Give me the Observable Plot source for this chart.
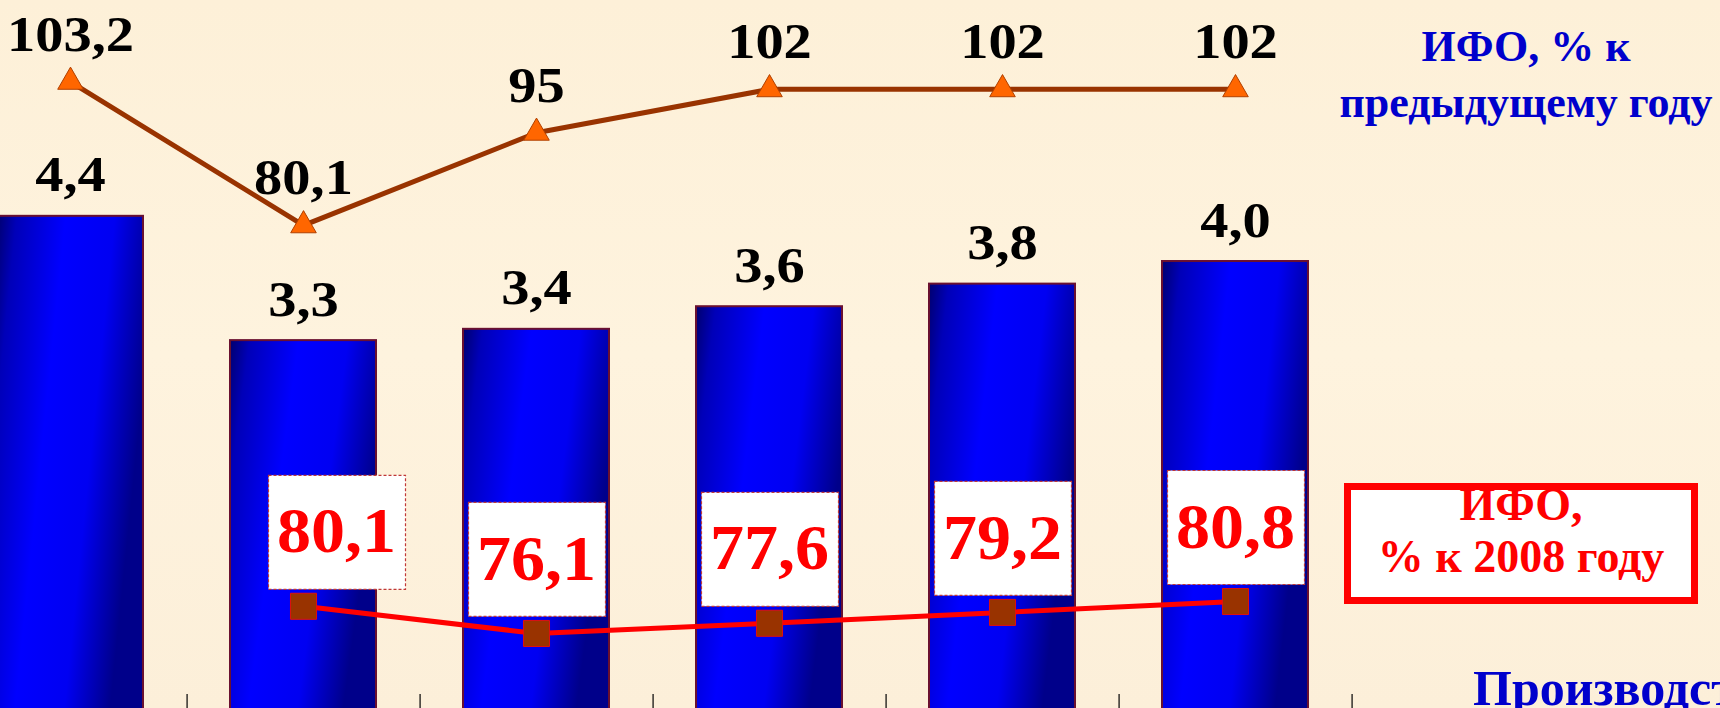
<!DOCTYPE html>
<html>
<head>
<meta charset="utf-8">
<script src="https://cdn.jsdelivr.net/npm/d3@7"></script>
<script src="https://cdn.jsdelivr.net/npm/@observablehq/plot@0.6"></script>
<style>
html, body { margin: 0; padding: 0; overflow: hidden; background: #fdf2dc; }
#wrap { position: relative; width: 1720px; height: 708px; overflow: hidden;
  background: linear-gradient(180deg, #fdf0d8 0%, #fef3de 50%, #fcefd9 100%); }
.layer { position: absolute; left: 0; top: 0; }
.legend { position: absolute; font-family: "Liberation Serif", "Times New Roman", serif; font-weight: bold; white-space: nowrap; }
</style>
</head>
<body>
<div id="wrap">
  <div class="legend" id="legBlue" style="left:1326px; top:19px; width:400px; text-align:center; font-size:44px; line-height:56px; color:#0000cc;">ИФО, % к<br>предыдущему году</div>
  <div class="legend" id="legRed" style="left:1344px; top:483px; width:354px; height:121px; box-sizing:border-box; border:7px solid #ff0000; background:#ffffff; overflow:hidden; text-align:center;">
    <div style="margin-top:-11px; font-size:46px; line-height:52px; color:#ff0000;">ИФО,<br>% к 2008 году</div>
  </div>
  <div class="legend" id="legBottom" style="left:1473px; top:660px; font-size:50px; line-height:56px; color:#0000cc;">Производство</div>
</div>
<script>
// ---- data ----
const years = ["2008", "2009", "2010", "2011", "2012", "2013"];
const volume = [4.4, 3.3, 3.4, 3.6, 3.8, 4.0];
const volumeLabels = ["4,4", "3,3", "3,4", "3,6", "3,8", "4,0"];
const prevYearIndex = [103.2, 80.1, 95, 102, 102, 102];
const prevYearLabels = ["103,2", "80,1", "95", "102", "102", "102"];
const baseYears = ["2009", "2010", "2011", "2012", "2013"];
const base2008Index = [80.1, 76.1, 77.6, 79.2, 80.8];
const base2008Labels = ["80,1", "76,1", "77,6", "79,2", "80,8"];

const barData = years.map((y, i) => ({year: y, v: volume[i], label: volumeLabels[i]}));
const prevData = years.map((y, i) => ({year: y, v: prevYearIndex[i], label: prevYearLabels[i]}));
const baseData = baseYears.map((y, i) => ({year: y, v: base2008Index[i], label: base2008Labels[i]}));

const serif = "Liberation Serif, Times New Roman, serif";
const W = 1720, H = 720;
const xOpts = {type: "band", domain: years, range: [-47, 1352], paddingInner: 0.373, paddingOuter: 0.186, axis: null};
const halfStep = 1399 / 6 / 2;
const style = {background: "transparent", overflow: "visible"};
const wrap = document.getElementById("wrap");

// widen text glyphs horizontally (the reference type is slightly stretched)
function stretchText(svg, sx) {
  d3.select(svg).selectAll("g[aria-label='text'] text").each(function() {
    const t = this.getAttribute("transform") || "";
    this.setAttribute("transform", t + ` scale(${sx},1)`);
  });
}

// ---- layer 1: bars (volume) ----
const bars = Plot.plot({
  width: W, height: H, marginTop: 0, marginBottom: 7, marginLeft: 0, marginRight: 0,
  style,
  x: xOpts,
  y: {domain: [0, 6.31], axis: null},
  marks: [
    Plot.barY(barData, {x: "year", y: "v", fill: "url(#barGrad)", stroke: "#6a1030", strokeWidth: 2}),
    Plot.text(barData, {x: "year", y: "v", text: "label", dy: -41, fontSize: 50, fontWeight: "bold", fontFamily: serif, fill: "#000"}),
    Plot.ruleX(years, {x: d => d, dx: halfStep, insetTop: 694, stroke: "#000", strokeWidth: 1.2})
  ]
});
const defs = d3.select(bars).insert("defs", ":first-child");
const grad = defs.append("linearGradient").attr("id", "barGrad")
  .attr("x1", 0).attr("y1", 0).attr("x2", 1).attr("y2", 0.35);
[[0, "#00006e"], [0.12, "#0000b8"], [0.42, "#0000ff"], [0.72, "#0000f2"], [1, "#00008a"]]
  .forEach(([o, c]) => grad.append("stop").attr("offset", o).attr("stop-color", c));
stretchText(bars, 1.13);

// ---- layer 2: index to previous year ----
const prev = Plot.plot({
  width: W, height: H, margin: 0, style,
  x: xOpts,
  y: {domain: [0.4, 116.3], axis: null},
  marks: [
    Plot.line(prevData, {x: "year", y: "v", stroke: "#993300", strokeWidth: 5}),
    Plot.dot(prevData, {x: "year", y: "v", symbol: "triangle", r: 9.5, fill: "#ff6600", stroke: "#b04000", strokeWidth: 1}),
    Plot.text(prevData, {x: "year", y: "v", text: "label", dy: -47, fontSize: 50, fontWeight: "bold", fontFamily: serif, fill: "#000"})
  ]
});
stretchText(prev, 1.13);

// ---- layer 3: index to 2008 ----
const labelBox = {draw(ctx) { ctx.moveTo(-68, -57); ctx.lineTo(69, -57); ctx.lineTo(69, 57); ctx.lineTo(-68, 57); ctx.closePath(); }};
const boxStyle = {x: "year", y: "v", symbol: labelBox, r: 10, dy: -74, fill: "#ffffff", stroke: "#c03838", strokeWidth: 1.2, strokeDasharray: "3,2"};
const textStyle = {x: "year", y: "v", text: "label", dy: -74, fontSize: 63, fontWeight: "bold", fontFamily: serif, fill: "#ff0000"};
const base = Plot.plot({
  width: W, height: H, margin: 0, style,
  x: xOpts,
  y: {domain: [63.3, 169.2], axis: null},
  marks: [
    Plot.dot(baseData, {...boxStyle, filter: (d, i) => i === 0, dx: 33}),
    Plot.dot(baseData, {...boxStyle, filter: (d, i) => i > 0}),
    Plot.line(baseData, {x: "year", y: "v", stroke: "#ff0000", strokeWidth: 5}),
    Plot.dot(baseData, {x: "year", y: "v", symbol: "square", r: 14.7, fill: "#993300", stroke: "#e01010", strokeWidth: 1}),
    Plot.text(baseData, {...textStyle, filter: (d, i) => i === 0, dx: 33}),
    Plot.text(baseData, {...textStyle, filter: (d, i) => i > 0})
  ]
});
stretchText(base, 1.08);

[bars, prev, base].forEach(svg => { svg.classList.add("layer"); });
const firstLegend = document.getElementById("legBlue");
wrap.insertBefore(bars, firstLegend);
wrap.insertBefore(prev, firstLegend);
wrap.insertBefore(base, firstLegend);
</script>
</body>
</html>
